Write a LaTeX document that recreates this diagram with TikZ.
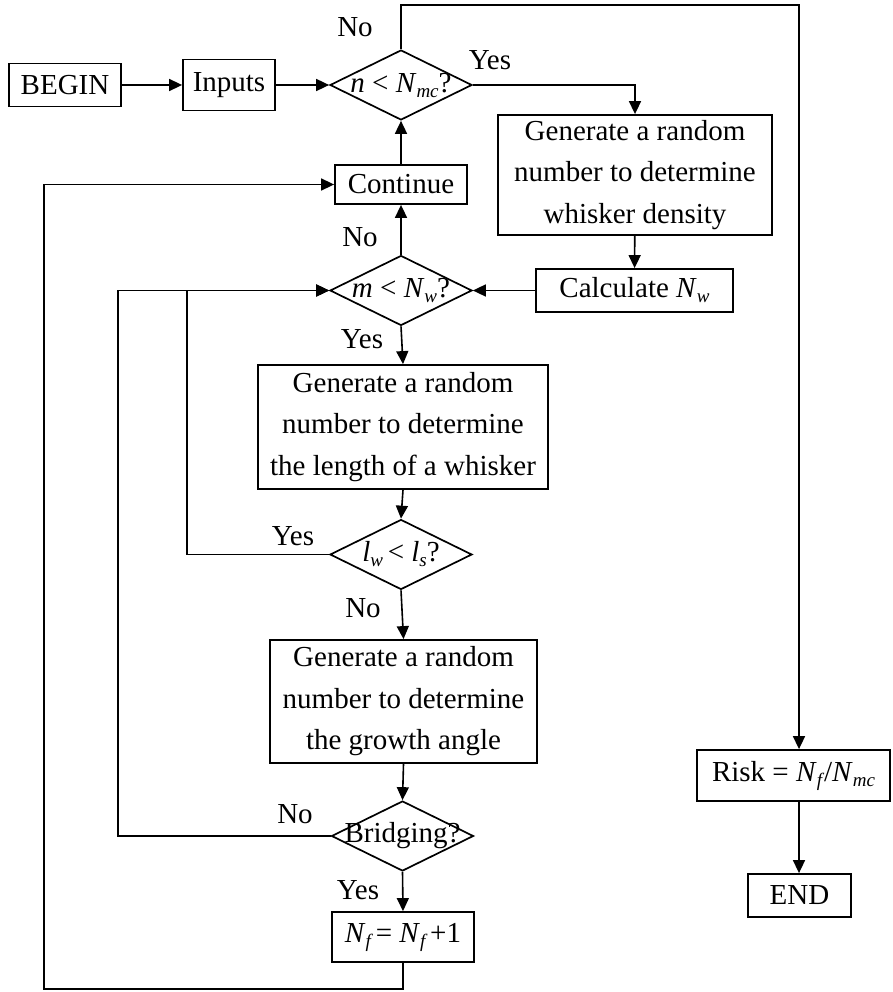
\documentclass[tikz,border=0pt]{standalone}
\usepackage{fontspec}
\setmainfont{Liberation Serif}
\usetikzlibrary{shapes.geometric,arrows.meta}
% italic subscript set lower and smaller
\newcommand{\lowsub}[1]{\raisebox{-5pt}{\fontsize{19}{19}\selectfont\itshape #1}}
\begin{document}
\begin{tikzpicture}[x=1pt,y=-1pt,
  every node/.style={font=\fontsize{29}{41.5}\selectfont},
  box/.style={draw,line width=1.8pt,inner sep=0pt,minimum width=#1},
  dia/.style={diamond,draw,line width=1.7pt,inner sep=0pt,minimum width=142,minimum height=70},
  cond/.style={inner sep=0pt},
  lbl/.style={anchor=base,inner sep=0pt},
  arr/.style={line width=1.6pt,-{Triangle[length=13pt,width=12pt]}},
  ln/.style={line width=1.6pt}]
\useasboundingbox (0,0) rectangle (892,992);

% process boxes
\node[box=112,minimum height=43] (begin) at (65,85) {BEGIN};
\node[box=92,minimum height=51] (inputs) at (229,85) {Inputs};
\node[box=132,minimum height=39] (cont) at (401,184.5) {Continue};
\node[box=274,minimum height=120,align=center] (gen1) at (635,175)
  {Generate a random\\number to determine\\whisker density};
\node[box=197,minimum height=43] (calc) at (634.5,290.5) {Calculate \textit{N}\lowsub{w}};
\node[box=290,minimum height=124,align=center] (gen2) at (403,427)
  {Generate a random\\number to determine\\the length of a whisker};
\node[box=267,minimum height=123,align=center] (gen3) at (403.5,701.5)
  {Generate a random\\number to determine\\the growth angle};
\node[box=142,minimum height=50] (nf) at (403,937)
  {\textit{N}\lowsub{f}\,= \textit{N}\lowsub{f}\,+1};
\node[box=193,minimum height=51] (risk) at (793.5,775.5)
  {Risk = \textit{N}\lowsub{f}\kern2pt/\textit{N}\lowsub{mc}};
\node[box=103,minimum height=43] (endn) at (799.5,895.5) {END};

% decisions
\node[dia] (d1) at (401,85) {};
\node[cond] at (d1.center) {\textit{n} < \textit{N}\lowsub{mc}?};
\node[dia] (d2) at (401,290.5) {};
\node[cond] at (d2.center) {\textit{m} < \textit{N}\lowsub{w}?};
\node[dia] (d3) at (401,554.5) {};
\node[cond] at (d3.center) {\textit{l}\lowsub{w}\,< \textit{l}\lowsub{s}?};
\node[dia] (d4) at (402.5,836) {};
\node[cond] at (d4.center) {Bridging?};

% branch labels
\node[lbl] (n1) at (355,37) {No};
\node[lbl] (y1) at (490,70) {Yes};
\node[lbl] (n2) at (360,247) {No};
\node[lbl] (y2) at (362,348) {Yes};
\node[lbl] (y3) at (293,545) {Yes};
\node[lbl] (n3) at (363,617) {No};
\node[lbl] (n4) at (295,823) {No};
\node[lbl] (y4) at (358,899) {Yes};

% routing points
\coordinate (top) at (799,5);
\coordinate (loopA) at (187,290.5);
\coordinate (loopB) at (118,290.5);
\coordinate (bot) at (403,989);
\coordinate (loopC) at (44,184.5);

% connectors
\draw[arr] (begin) -- (inputs);
\draw[arr] (inputs) -- (d1.west);
\draw[arr] (d1.north) |- (top) -- (top |- risk.north);
\draw[arr] (d1.east) -| (gen1.north);
\draw[arr] (gen1) -- (calc);
\draw[arr] (calc) -- (d2.east);
\draw[arr] (d2.north) -- (cont.south);
\draw[arr] (cont.north) -- (d1.south);
\draw[arr] (d2.south) -- (gen2.north);
\draw[arr] (gen2.south) -- (d3.north);
\draw[arr] (d3.west) -| (loopA) -- (d2.west);
\draw[arr] (d3.south) -- (gen3.north);
\draw[arr] (gen3.south) -- (d4.north);
\draw[arr] (d4.west) -| (loopB) -- (d2.west);
\draw[arr] (d4.south) -- (nf.north);
\draw[arr] (nf.south) -- (bot) -| (loopC) -- (cont.west);
\draw[arr] (risk.south -| top) -- (endn.north -| top);
\end{tikzpicture}
\end{document}
